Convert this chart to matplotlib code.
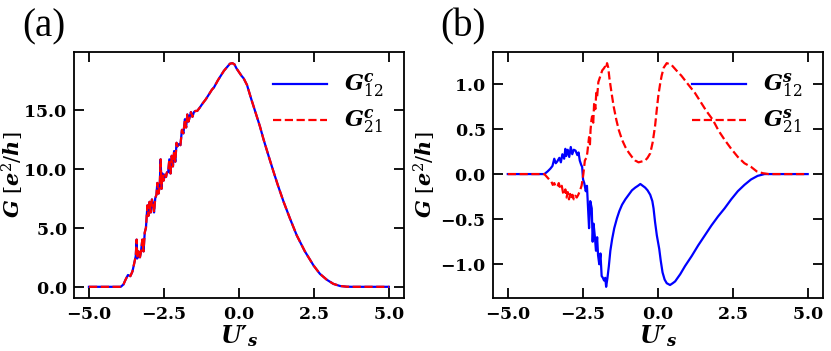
"""
Conductance curves G (charge / spin) vs U'_s, two panels.
"""

import matplotlib
matplotlib.use("Agg")
import matplotlib.pyplot as plt
from matplotlib.ticker import FuncFormatter

# no Computer Modern here, serif fonts for the maths instead
matplotlib.rcParams['mathtext.fontset'] = 'custom'
matplotlib.rcParams['mathtext.rm'] = 'DejaVu Serif'
matplotlib.rcParams['mathtext.it'] = 'DejaVu Serif:italic'
matplotlib.rcParams['mathtext.bf'] = 'DejaVu Serif:bold'
matplotlib.rcParams['mathtext.bfit'] = 'DejaVu Serif:italic:bold'
matplotlib.rcParams['mathtext.sf'] = 'DejaVu Sans:bold'

# ---- panel (a): charge conductance ----
u_a = [-5.0, -4.5, -4.0, -3.94, -3.85, -3.78, -3.7, -3.62, -3.55, -3.49,
       -3.44, -3.41, -3.39, -3.35, -3.3, -3.27, -3.22, -3.18, -3.14, -3.1,
       -3.05, -3.02, -2.98, -2.94, -2.9, -2.86, -2.83, -2.79, -2.75, -2.72,
       -2.68, -2.64, -2.61, -2.58, -2.55, -2.51, -2.47, -2.43, -2.4, -2.36,
       -2.32, -2.28, -2.24, -2.2, -2.16, -2.12, -2.08, -2.05, -2.0, -1.95,
       -1.9, -1.85, -1.8, -1.76, -1.72, -1.68, -1.64, -1.6, -1.55, -1.5,
       -1.45, -1.39, -1.3, -1.22, -1.1, -1.0, -0.9, -0.83, -0.7, -0.6,
       -0.5, -0.4, -0.3, -0.22, -0.15, -0.08, 0.0, 0.08, 0.16, 0.27,
       0.4, 0.55, 0.7, 0.82, 1.0, 1.16, 1.3, 1.49, 1.7, 1.93,
       2.2, 2.49, 2.7, 2.93, 3.15, 3.37, 3.6, 3.8, 4.0, 4.5, 5.0]
g12_c = [0.0, 0.0, 0.0, 0.0, 0.2, 0.6, 1.0, 0.9, 1.3, 2.0,
         2.6, 4.0, 2.4, 3.0, 2.5, 2.9, 4.0, 3.0, 4.6, 5.0,
         6.9, 6.0, 7.2, 6.3, 7.4, 7.0, 6.3, 7.5, 7.8, 8.8,
         7.9, 8.6, 10.8, 8.3, 9.6, 9.0, 9.5, 9.3, 9.7, 9.7,
         10.8, 9.6, 11.1, 10.2, 11.5, 10.6, 12.2, 11.9, 12.1, 12.0,
         13.3, 13.0, 14.2, 13.5, 14.6, 14.0, 14.4, 14.8, 14.4, 14.8,
         14.9, 14.9, 15.2, 15.5, 15.9, 16.3, 16.7, 16.9, 17.5, 17.9,
         18.3, 18.6, 18.9, 18.95, 18.85, 18.5, 18.2, 17.9, 17.65, 17.1,
         16.0, 14.8, 13.6, 12.5, 11.0, 9.7, 8.6, 7.2, 5.8, 4.35,
         3.0, 1.8, 1.1, 0.6, 0.25, 0.07, 0.01, 0.0, 0.0, 0.0, 0.0]
g21_c = list(g12_c)

# ---- panel (b): spin conductance ----
u_b12 = [-5.0, -4.5, -4.0, -3.78, -3.67, -3.58, -3.51, -3.45, -3.4, -3.35,
         -3.28, -3.23, -3.18, -3.12, -3.08, -3.05, -3.0, -2.95, -2.9, -2.85,
         -2.8, -2.74, -2.68, -2.64, -2.6, -2.55, -2.52, -2.49, -2.45, -2.4,
         -2.36, -2.32, -2.29, -2.25, -2.2, -2.17, -2.14, -2.1, -2.06, -2.02,
         -1.99, -1.95, -1.91, -1.87, -1.83, -1.79, -1.75, -1.72, -1.68, -1.63,
         -1.58, -1.52, -1.45, -1.36, -1.28, -1.19, -1.08, -0.97, -0.86, -0.75,
         -0.66, -0.58, -0.5, -0.42, -0.34, -0.25, -0.18, -0.14, -0.09, -0.03,
         0.05, 0.1, 0.16, 0.23, 0.3, 0.41, 0.5, 0.58, 0.75, 0.91,
         1.13, 1.35, 1.57, 1.79, 2.01, 2.23, 2.45, 2.67, 2.89, 3.11,
         3.33, 3.56, 4.0, 4.5, 5.0]
g12_s = [0.0, 0.0, 0.0, 0.0, 0.03, 0.06, 0.09, 0.17, 0.12, 0.14,
         0.18, 0.13, 0.22, 0.17, 0.28, 0.2, 0.27, 0.19, 0.30, 0.22,
         0.27, 0.26, 0.21, 0.24, 0.15, 0.1, 0.08, -0.06, -0.1, -0.19,
         -0.13, -0.4, -0.6, -0.3, -0.38, -0.75, -0.55, -0.68, -0.85, -0.7,
         -0.9, -1.0, -0.88, -1.13, -1.15, -1.18, -1.15, -1.25, -1.16, -1.02,
         -0.85, -0.72, -0.6, -0.49, -0.41, -0.34, -0.28, -0.23, -0.18, -0.15,
         -0.13, -0.11, -0.13, -0.15, -0.18, -0.23, -0.3, -0.38, -0.53, -0.68,
         -0.83, -0.96, -1.09, -1.17, -1.21, -1.23, -1.21, -1.19, -1.11, -1.02,
         -0.91, -0.79, -0.68, -0.57, -0.47, -0.38, -0.28, -0.19, -0.12, -0.06,
         -0.02, 0.0, 0.0, 0.0, 0.0]

u_b21 = [-5.0, -4.5, -4.0, -3.78, -3.7, -3.62, -3.55, -3.5, -3.45, -3.4,
         -3.34, -3.3, -3.25, -3.2, -3.15, -3.12, -3.08, -3.04, -3.0, -2.96,
         -2.92, -2.88, -2.84, -2.8, -2.75, -2.7, -2.65, -2.6, -2.54, -2.5,
         -2.48, -2.43, -2.38, -2.35, -2.31, -2.29, -2.26, -2.24, -2.21, -2.19,
         -2.15, -2.12, -2.08, -2.05, -2.02, -1.98, -1.94, -1.9, -1.85, -1.8,
         -1.76, -1.72, -1.69, -1.65, -1.61, -1.54, -1.47, -1.38, -1.3, -1.19,
         -1.08, -0.97, -0.86, -0.75, -0.64, -0.53, -0.42, -0.34, -0.25, -0.17,
         -0.09, -0.03, 0.02, 0.08, 0.13, 0.2, 0.3, 0.38, 0.46, 0.62,
         0.79, 1.0, 1.24, 1.43, 1.62, 1.84, 2.03, 2.23, 2.45, 2.67,
         2.89, 3.11, 3.3, 3.5, 3.7, 4.0, 4.5, 5.0]
g21_s = [0.0, 0.0, 0.0, 0.0, -0.03, -0.06, -0.08, -0.12, -0.1, -0.14,
         -0.14, -0.1, -0.16, -0.13, -0.22, -0.23, -0.17, -0.26, -0.2, -0.28,
         -0.22, -0.27, -0.23, -0.28, -0.24, -0.26, -0.23, -0.19, -0.13, -0.05,
         0.0, 0.15, 0.18, 0.23, 0.35, 0.41, 0.33, 0.49, 0.6, 0.64,
         0.57, 0.79, 0.72, 0.9, 0.86, 1.02, 1.06, 1.1, 1.15, 1.17,
         1.19, 1.17, 1.23, 1.18, 1.06, 0.9, 0.75, 0.6, 0.49, 0.38,
         0.30, 0.24, 0.19, 0.15, 0.13, 0.14, 0.15, 0.18, 0.23, 0.35,
         0.53, 0.72, 0.87, 1.0, 1.09, 1.18, 1.23, 1.22, 1.21, 1.15,
         1.09, 1.0, 0.9, 0.80, 0.70, 0.6, 0.48, 0.38, 0.28, 0.19,
         0.12, 0.08, 0.03, 0.01, 0.0, 0.0, 0.0, 0.0]

xticks = [-5.0, -2.5, 0.0, 2.5, 5.0]
yticks_a = [0.0, 5.0, 10.0, 15.0]
yticks_b = [-1.0, -0.5, 0.0, 0.5, 1.0]


def bold_fmt(v, pos):
    return r"$\mathbf{%.1f}$" % v


def style_axis(ax, yticks, ylab_x):
    ax.set_xticks(xticks)
    ax.set_yticks(yticks)
    ax.xaxis.set_major_formatter(FuncFormatter(bold_fmt))
    ax.yaxis.set_major_formatter(FuncFormatter(bold_fmt))
    ax.tick_params(direction="in", top=True, right=True, length=7,
                   width=1.3, labelsize=12.5, pad=5)
    for sp in ax.spines.values():
        sp.set_linewidth(1.3)
    ax.set_xlabel(r"$\mathbfit{U}\mathsf{\prime}_{\mathbfit{s}}$", fontsize=17)
    ax.set_ylabel(r"$\mathbfit{G}\ [\mathbfit{e}^{2}/\mathbfit{h}]$", fontsize=15)
    ax.xaxis.set_label_coords(0.5, -0.1)
    ax.yaxis.set_label_coords(ylab_x, 0.5)


fig = plt.figure(figsize=(8.31, 3.51), dpi=100)
ax1 = fig.add_axes([0.089, 0.151, 0.397, 0.701])
ax2 = fig.add_axes([0.593, 0.151, 0.397, 0.701])

ax1.plot(u_a, g12_c, "b-", lw=1.6, label=r"$\mathbfit{G}^{\mathbfit{c}}_{12}$")
ax1.plot(u_a, g21_c, "r--", lw=1.6, label=r"$\mathbfit{G}^{\mathbfit{c}}_{21}$")
style_axis(ax1, yticks_a, -0.145)

ax2.plot(u_b12, g12_s, "b-", lw=1.6, label=r"$\mathbfit{G}^{\mathbfit{s}}_{12}$")
ax2.plot(u_b21, g21_s, "r--", lw=1.6, label=r"$\mathbfit{G}^{\mathbfit{s}}_{21}$")
style_axis(ax2, yticks_b, -0.165)

for ax in (ax1, ax2):
    ax.legend(loc="upper right", frameon=False, fontsize=16,
              handlelength=2.4, labelspacing=0.35)

fig.text(0.027, 0.975, "(a)", fontsize=28, va="top", family="Liberation Serif")
fig.text(0.53, 0.975, "(b)", fontsize=28, va="top", family="Liberation Serif")

plt.savefig("out.png", dpi=100)
plt.close()
